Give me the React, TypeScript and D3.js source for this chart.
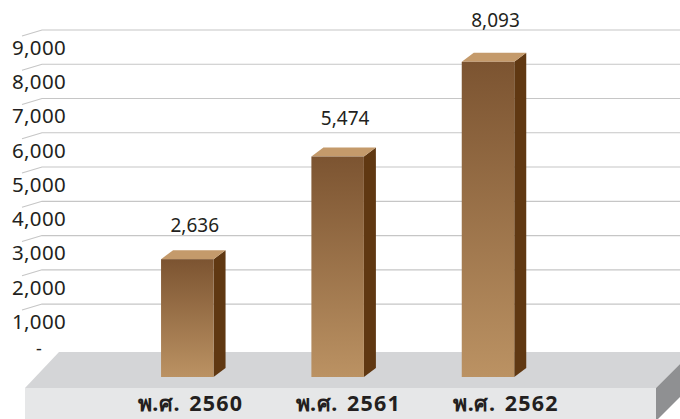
import React from 'react';
import * as d3 from 'd3';

const categories = ['พ.ศ. 2560', 'พ.ศ. 2561', 'พ.ศ. 2562'];
const values = [2636, 5474, 8093];
const yTicks = [0, 1000, 2000, 3000, 4000, 5000, 6000, 7000, 8000, 9000];

const width = 680;
const height = 419;
const barWidth = 52.5;
const depthX = 12; // side / top face offset
const depthY = -9;
const barBottom = 377;

// floor slab
const floorBack = 352;
const floorFront = 388;
const floorBottom = 421;
const floorLeftBack = 59;
const floorLeftFront = 25;
const floorRightFront = 656;

const font = '"Noto Sans", "DejaVu Sans", sans-serif';
const fmt = d3.format(',');

export default function App() {
  // back wall scale (gridlines + tick labels)
  const yWall = d3.scaleLinear().domain([0, 9000]).range([338.3, 30]);
  // front face of the bars (perspective makes it differ from the wall)
  const yBar = d3.scaleLinear().domain([0, 9000]).range([354.5, 29]);
  // value label baselines
  const yLabel = d3.scaleLinear().domain([0, 9000]).range([330.4, -6.7]);

  const x = d3.scalePoint<string>().domain(categories).range([187.3, 488]);
  const xCat = d3.scalePoint<string>().domain(categories).range([190.5, 506]);

  const fd = floorBack - floorFront;

  return (
    <div style={{ position: 'absolute', left: 0, top: 0 }}>
      <svg width={width} height={height} style={{ display: 'block', background: '#fff' }}>
        <defs>
          <linearGradient id="barGrad" x1="0" y1="0" x2="0" y2="1">
            <stop offset="0%" stopColor="#7c5431" />
            <stop offset="100%" stopColor="#bb9263" />
          </linearGradient>
        </defs>

        {/* gridlines on the back wall */}
        {yTicks.filter(t => t > 0).map(t => (
          <polyline
            key={t}
            points={`22,${yWall(t) + 6} 42,${yWall(t)} ${width},${yWall(t)}`}
            fill="none"
            stroke="#c6c6c6"
            strokeWidth={1.2}
          />
        ))}

        {/* tick labels */}
        {yTicks.map(t => (
          <text
            key={'l' + t}
            x={39}
            y={yWall(t) + 24.8 - (t === 0 ? 8 : 0)}
            textAnchor="middle"
            fontFamily={font}
            fontSize={t === 0 ? 18 : 20.5}
            letterSpacing={0.3}
            fill="#231f20"
          >
            {t === 0 ? '-' : fmt(t)}
          </text>
        ))}

        {/* floor */}
        <polygon
          points={`${floorLeftBack},${floorBack} ${floorRightFront - fd},${floorBack} ${floorRightFront},${floorFront} ${floorLeftFront},${floorFront}`}
          fill="#d4d5d7"
        />
        <rect x={floorLeftFront} y={floorFront} width={floorRightFront - floorLeftFront} height={floorBottom - floorFront} fill="#e6e7e8" />
        <polygon
          points={`${floorRightFront},${floorFront} ${floorRightFront - fd},${floorBack} ${floorRightFront - fd},${floorBack + floorBottom - floorFront} ${floorRightFront},${floorBottom}`}
          fill="#8f9092"
        />

        {/* bars */}
        {categories.map((c, i) => {
          const cx = x(c)!;
          const x0 = cx - barWidth / 2;
          const x1 = cx + barWidth / 2;
          const yt = yBar(values[i]);
          return (
            <g key={c}>
              <polygon
                points={`${x1},${yt} ${x1 + depthX},${yt + depthY} ${x1 + depthX},${barBottom + depthY} ${x1},${barBottom}`}
                fill="#603812"
              />
              <polygon
                points={`${x0},${yt} ${x0 + depthX},${yt + depthY} ${x1 + depthX},${yt + depthY} ${x1},${yt}`}
                fill="#c49a6b"
              />
              <rect x={x0} y={yt} width={barWidth} height={barBottom - yt} fill="url(#barGrad)" />
              <text
                x={cx + depthX / 2 + 1.5}
                y={yLabel(values[i])}
                textAnchor="middle"
                fontFamily={font}
                fontSize={19}
                fill="#231f20"
              >
                {fmt(values[i])}
              </text>
            </g>
          );
        })}

        {/* category labels on the floor front */}
        {categories.map(c => {
          const [prefix, year] = c.split(' ');
          return (
            <text
              key={'c' + c}
              x={xCat(c)}
              y={410.5}
              textAnchor="middle"
              fontFamily={font}
              fontSize={21.5}
              fontWeight="bold"
              fill="#231f20"
            >
              <tspan letterSpacing={0.6}>{prefix}</tspan>
              <tspan dx={9} letterSpacing={1.2}>{year}</tspan>
            </text>
          );
        })}
      </svg>
    </div>
  );
}
